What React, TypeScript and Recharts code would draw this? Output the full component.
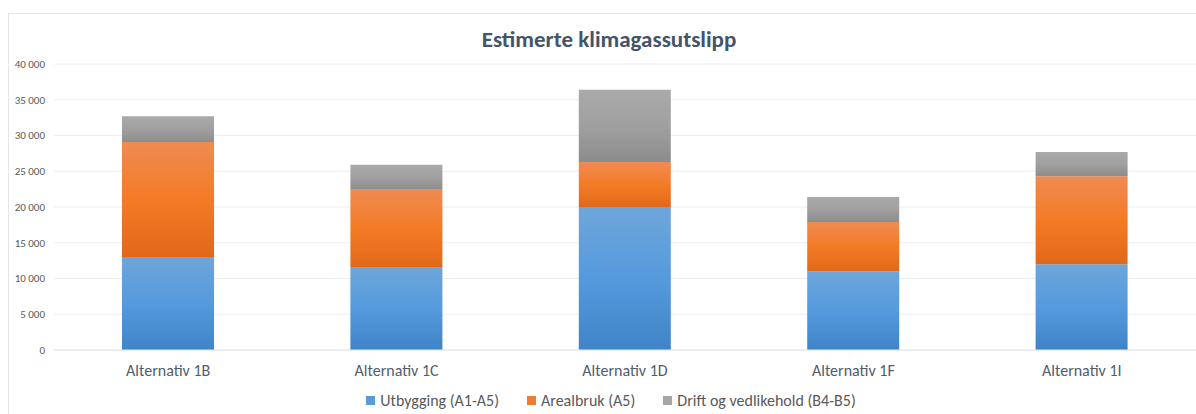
import { BarChart, Bar, XAxis, YAxis, CartesianGrid, Legend } from 'recharts';

const categories = ['Alternativ 1B', 'Alternativ 1C', 'Alternativ 1D', 'Alternativ 1F', 'Alternativ 1I'];
const utbygging = [13000, 11500, 19900, 11000, 12000];
const arealbruk = [16100, 10900, 6400, 6900, 12300];
const drift = [3600, 3500, 10100, 3500, 3400];
const yTicks = [0, 5000, 10000, 15000, 20000, 25000, 30000, 35000, 40000];

const legendItems = [
  { label: 'Utbygging (A1-A5)', color: '#5b9bd5' },
  { label: 'Arealbruk (A5)', color: '#ed7d31' },
  { label: 'Drift og vedlikehold (B4-B5)', color: '#a5a5a5' },
];

const data = categories.map((name, i) => ({
  name,
  utbygging: utbygging[i],
  arealbruk: arealbruk[i],
  drift: drift[i],
}));

const FONT = 'Calibri, Carlito, Lato, sans-serif';

const fmt = (v: number) => v.toLocaleString('en-US').replace(/,/g, ' ');

function LegendBox() {
  return (
    <div style={{ display: 'flex', justifyContent: 'center', paddingLeft: 54, fontFamily: FONT, fontSize: 16, color: '#595959' }}>
      {legendItems.map(it => (
        <div key={it.label} style={{ display: 'flex', alignItems: 'center', marginRight: 28 }}>
          <span style={{ width: 9, height: 9, background: it.color, marginRight: 5, display: 'inline-block' }} />
          <span>{it.label}</span>
        </div>
      ))}
    </div>
  );
}

export default function App() {
  return (
    <div style={{ position: 'absolute', left: 0, top: 0, width: 1196, height: 414, overflow: 'hidden', background: '#fff', fontFamily: FONT }}>
      <div style={{ position: 'absolute', left: 8, top: 13, width: 1300, height: 500, border: '1px solid #e6e6e6' }} />
      <div style={{ position: 'absolute', left: 0, width: 1218, top: 25, textAlign: 'center', fontSize: 23, fontWeight: 700, color: '#44546a' }}>
        Estimerte klimagassutslipp
      </div>
      <div style={{ position: 'absolute', left: 0, top: 0 }}>
        <BarChart width={1196} height={414} data={data} barSize={92} margin={{ top: 64, right: 0, bottom: 4, left: 0 }}>
          <defs>
            <linearGradient id="gBlue" x1="0" y1="0" x2="0" y2="1">
              <stop offset="0%" stopColor="#6ea6da" />
              <stop offset="50%" stopColor="#559ade" />
              <stop offset="100%" stopColor="#3f84c6" />
            </linearGradient>
            <linearGradient id="gOrange" x1="0" y1="0" x2="0" y2="1">
              <stop offset="0%" stopColor="#ef8b52" />
              <stop offset="50%" stopColor="#f47b25" />
              <stop offset="100%" stopColor="#e0681a" />
            </linearGradient>
            <linearGradient id="gGray" x1="0" y1="0" x2="0" y2="1">
              <stop offset="0%" stopColor="#aaaaaa" />
              <stop offset="50%" stopColor="#a0a0a0" />
              <stop offset="100%" stopColor="#8c8c8c" />
            </linearGradient>
          </defs>
          <CartesianGrid vertical={false} stroke="#eceef3" />
          <XAxis
            dataKey="name"
            tickLine={false}
            axisLine={{ stroke: '#e3e5ea' }}
            tick={{ fill: '#525c6b', fontSize: 16, fontFamily: FONT }}
            tickMargin={9}
            height={41}
          />
          <YAxis
            ticks={yTicks}
            domain={[0, 40000]}
            tickFormatter={fmt}
            tickLine={false}
            axisLine={false}
            width={54}
            tick={{ fill: '#595959', fontSize: 11, fontFamily: FONT }}
            tickMargin={3}
          />
          <Legend verticalAlign="bottom" content={<LegendBox />} />
          <Bar dataKey="utbygging" name="Utbygging (A1-A5)" stackId="a" fill="url(#gBlue)" isAnimationActive={false} />
          <Bar dataKey="arealbruk" name="Arealbruk (A5)" stackId="a" fill="url(#gOrange)" isAnimationActive={false} />
          <Bar dataKey="drift" name="Drift og vedlikehold (B4-B5)" stackId="a" fill="url(#gGray)" isAnimationActive={false} />
        </BarChart>
      </div>
    </div>
  );
}
